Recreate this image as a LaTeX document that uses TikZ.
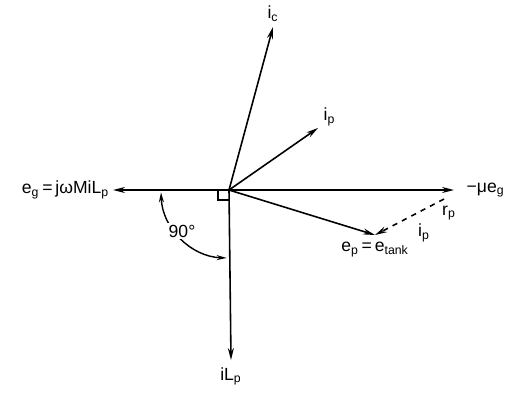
\documentclass[tikz,border=0pt]{standalone}
\usepackage{fontspec}
\setmainfont{Liberation Sans}
\usetikzlibrary{arrows.meta,positioning}

\begin{document}
\begin{tikzpicture}[x=0.02cm,y=-0.02cm,
  phasor/.style={line width=0.9pt,-{Stealth[length=2.4mm,width=1.2mm]}},
  lbl/.style={font=\normalsize,inner sep=1pt}]
  \useasboundingbox (0,0) rectangle (510,392);
  % origin and phasor tips
  \coordinate (o) at (229,190);
  \coordinate (ic) at (273,27);
  \coordinate (ip) at (318,128);
  \coordinate (mueg) at (454,190);
  \coordinate (ep) at (375,235);
  \coordinate (eg) at (113,190);
  \coordinate (iLp) at (231,360);
  \coordinate (drop) at (444,199);
  % phasors
  \draw[phasor] (o) -- (ic);
  \draw[phasor] (o) -- (ip);
  \draw[phasor] (o) -- (mueg);
  \draw[phasor] (o) -- (ep);
  \draw[phasor] (o) -- (eg);
  \draw[phasor] (o) -- (iLp);
  \draw[phasor,dashed] (drop) -- (ep);
  % right angle and 90 degree arc
  \draw[line width=0.7pt] (o) ++(-11,0) -- ++(0,10) -- ++(11,0);
  \draw[line width=0.8pt,{Stealth[length=2mm,width=1mm]}-{Stealth[length=2mm,width=1mm]}]
    (o) ++(178:68) arc[start angle=178,end angle=92,radius=68];
  % labels
  \node[lbl,above=2pt of ic] (icl) {i\textsubscript{c}};
  \node[lbl,above right=0pt and 2pt of ip] (ipl) {i\textsubscript{p}};
  \node[lbl,right=6pt of mueg] (muegl) {−μe\textsubscript{g}};
  \node[lbl,below=3pt of ep] (epl) {e\textsubscript{p}\,=\,e\textsubscript{tank}};
  \node[lbl,left=1pt of eg] (egl) {e\textsubscript{g}\,=\,jωMiL\textsubscript{p}};
  \node[lbl,below=3pt of iLp] (iLpl) {iL\textsubscript{p}};
  \node[lbl,fill=white] (ang) at (182,231) {90°};
  \node[lbl] (drpi) at (424,233) {i\textsubscript{p}};
  \node[lbl] (drpr) at (449,213) {r\textsubscript{p}};
\end{tikzpicture}
\end{document}
